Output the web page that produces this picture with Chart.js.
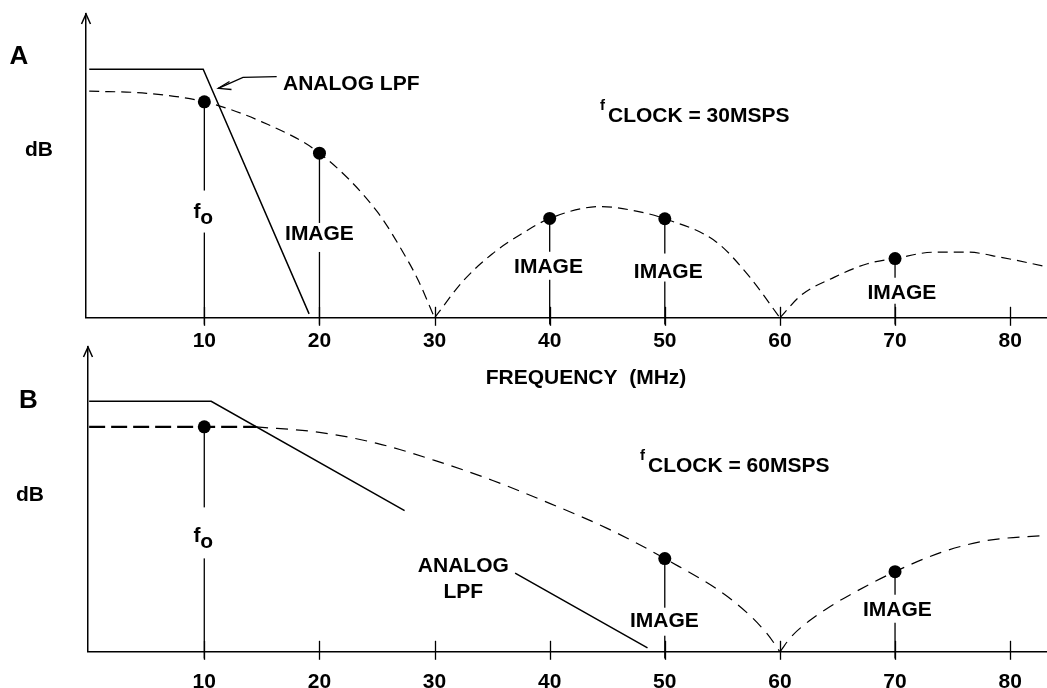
<!DOCTYPE html>
<html>
<head>
<meta charset="utf-8">
<script src="https://cdn.jsdelivr.net/npm/chart.js@4.4.1/dist/chart.umd.min.js"></script>
<style>
  html, body { margin: 0; padding: 0; background: #fff; overflow: hidden; }
  #wrap { position: relative; width: 1047px; height: 688px; overflow: hidden; }
  canvas { position: absolute; left: 0; }
  #chartA { top: 0; }
  #chartB { top: 330px; }
</style>
</head>
<body>
<div id="wrap">
  <canvas id="chartA" width="1047" height="400"></canvas>
  <canvas id="chartB" width="1047" height="390"></canvas>
</div>
<script>
// frequency ticks (MHz)
const freqTicks = [10, 20, 30, 40, 50, 60, 70, 80]

// Panel A - fclock 30MSPS
const lpfAFreq = [0, 9.9, 19.1]
const lpfALevel = [81.8, 81.8, 1.3]
const sincA1Freq = [0, 5, 10, 15, 20, 25, 27.5, 28.6, 30]
const sincA1Level = [74.6, 73.9, 71.1, 64.5, 54.2, 35, 20, 12.2, 0]
const sincA2Freq = [30, 32.5, 35, 37.5, 40, 44.4, 47.3, 50, 54.5, 57.4, 60]
const sincA2Level = [0, 12.2, 21, 27.5, 32.7, 36.6, 35.3, 32.6, 24.9, 13.3, 0]
const sincA3Freq = [60, 61.8, 64.7, 67.6, 70, 73.4, 76.3, 79.2, 83.2]
const sincA3Level = [0, 7.3, 13.3, 17.8, 19.5, 21.6, 21.6, 19.9, 16.8]
const dotsAFreq = [10, 20, 40, 50, 70]
const dotsALevel = [71.1, 54.2, 32.7, 32.6, 19.5]

// Panel B - fclock 60MSPS
const lpfBFreq = [0, 10.6, 27.4, 32, 37.0, 48.5]
const lpfBLevel = [82.2, 82.2, 46.3, null, 25.8, 1.3]
const sincB0Freq = [0, 14.5]
const sincB0Level = [73.8, 73.8]
const sincB1Freq = [14.5, 20, 25, 30, 35, 40, 45, 50, 55.9, 58.9, 60]
const sincB1Level = [73.8, 72, 68.4, 62.8, 56.3, 48.7, 40.5, 30.6, 16.8, 5.9, 0]
const sincB2Freq = [60, 61, 62.5, 64, 66, 70, 74, 78, 83.2]
const sincB2Level = [0, 5, 10, 14, 18.5, 26.3, 32.6, 36.5, 38.2]
const dotsBFreq = [10, 50, 70]
const dotsBLevel = [73.8, 30.6, 26.3]

const FONT = '"Liberation Sans", Arial, sans-serif'

function pts(xs, ys) {
    return xs.map((x, i) => ({x: x, y: ys[i]}))
}
// vertical stems from each dot down through the axis
function stems(xs, ys) {
    return xs.flatMap((x, i) => [{x: x, y: ys[i]}, {x: x, y: -2.2}, {x: x, y: null}])
}

function lineSet(data, opts) {
    return Object.assign({
        data: data,
        borderColor: '#000',
        borderWidth: 1.5,
        pointRadius: 0,
        fill: false,
        spanGaps: false,
        tension: 0
    }, opts || {})
}
function dashSet(data, opts) {
    return lineSet(data, Object.assign({borderWidth: 1.2, borderDash: [10, 6], cubicInterpolationMode: 'monotone'}, opts || {}))
}
function dotSet(data) {
    return {data: data, showLine: false, pointRadius: 6.5, pointHoverRadius: 6.5,
        pointBackgroundColor: '#000', pointBorderWidth: 0, borderColor: '#000'}
}

// Decorations: crossing tick marks, y arrow, text labels with stem gaps
const decor = {
    id: 'decor',
    afterDraw(chart, args, opts) {
        const ctx = chart.ctx
        const xs = chart.scales.x, ys = chart.scales.y
        const area = chart.chartArea
        ctx.save()
        ctx.strokeStyle = '#000'
        ctx.fillStyle = '#000'
        ctx.lineWidth = 1.3
        freqTicks.forEach(v => {
            const px = Math.round(xs.getPixelForValue(v)) + 0.5
            ctx.beginPath()
            ctx.moveTo(px, area.bottom - 11)
            ctx.lineTo(px, area.bottom + 8)
            ctx.stroke()
        })
        // arrow on the dB axis
        ctx.lineWidth = 1.5
        ctx.beginPath()
        ctx.moveTo(area.left - 4.5, area.top + 10)
        ctx.lineTo(area.left, area.top)
        ctx.lineTo(area.left + 4.5, area.top + 10)
        ctx.stroke()

        // labels placed on the data scales
        opts.labels.forEach(l => {
            const px = xs.getPixelForValue(l.x)
            const py = ys.getPixelForValue(l.y)
            if (l.gap) {
                const gx = xs.getPixelForValue(l.gap.at)
                ctx.fillStyle = '#fff'
                ctx.fillRect(gx - 3, py - l.gap.up, 6, l.gap.up + l.gap.down)
                ctx.fillStyle = '#000'
            }
            ctx.font = 'bold ' + (l.size || 21) + 'px ' + FONT
            ctx.textAlign = l.align || 'center'
            ctx.textBaseline = l.base || 'middle'
            ctx.fillText(l.text, px, py)
        })
        // fixed texts (titles outside the plot)
        opts.texts.forEach(t => {
            ctx.font = 'bold ' + (t.size || 21) + 'px ' + FONT
            ctx.textAlign = t.align || 'center'
            ctx.textBaseline = t.base || 'middle'
            ctx.fillText(t.text, t.px, t.py)
        })
        // pointer arrows
        ctx.lineWidth = 1.3
        opts.paths.forEach(p => {
            ctx.beginPath()
            p.forEach((q, i) => i ? ctx.lineTo(q[0], q[1]) : ctx.moveTo(q[0], q[1]))
            ctx.stroke()
        })
        ctx.restore()
    }
}

function makePanel(id, datasets, xMin, pad, decorOpts) {
    return new Chart(document.getElementById(id), {
        type: 'line',
        data: {datasets: datasets},
        options: {
            animation: false,
            responsive: false,
            events: [],
            layout: {padding: pad, autoPadding: false},
            plugins: {legend: {display: false}, tooltip: {enabled: false}, decor: decorOpts},
            scales: {
                x: {
                    type: 'linear', min: xMin, max: 83.2,
                    afterBuildTicks: axis => { axis.ticks = freqTicks.map(v => ({value: v})) },
                    afterFit: axis => { axis.paddingLeft = 0; axis.paddingRight = 0 },
                    ticks: {padding: pad.tickPad, color: '#000', maxRotation: 0, autoSkip: false,
                        font: {family: FONT, size: 21, weight: 'bold'}},
                    grid: {display: false},
                    border: {color: '#000', width: 1.5}
                },
                y: {
                    min: 0, max: 100,
                    afterFit: axis => { axis.width = 0 },
                    ticks: {display: false},
                    grid: {display: false},
                    border: {color: '#000', width: 1.5}
                }
            }
        },
        plugins: [decor]
    })
}

// Panel A
makePanel('chartA', [
    dotSet(pts(dotsAFreq, dotsALevel)),
    lineSet(stems(dotsAFreq, dotsALevel), {borderWidth: 1.3, clip: false}),
    lineSet(pts(lpfAFreq, lpfALevel)),
    dashSet(pts(sincA1Freq, sincA1Level)),
    dashSet(pts(sincA2Freq, sincA2Level)),
    dashSet(pts(sincA3Freq, sincA3Level))
], -0.28, {left: 86, right: 0, top: 14, bottom: 43, tickPad: 3}, {
    labels: [
        {text: 'f', x: 9.37, y: 33.0, base: 'alphabetic', gap: {at: 10, up: 27, down: 15}},
        {text: 'o', x: 10.2, y: 31.0, base: 'alphabetic'},
        {text: 'IMAGE', x: 20, y: 27.6, gap: {at: 20, up: 11, down: 18}},
        {text: 'IMAGE', x: 39.9, y: 16.8, gap: {at: 40, up: 15, down: 13}},
        {text: 'IMAGE', x: 50.3, y: 14.9, gap: {at: 50, up: 19, down: 9}},
        {text: 'IMAGE', x: 70.6, y: 8.25, gap: {at: 70, up: 15, down: 11}}
    ],
    texts: [
        {text: 'A', px: 19, py: 57, size: 26},
        {text: 'dB', px: 39, py: 150},
        {text: 'ANALOG LPF', px: 283, py: 90, align: 'left', base: 'alphabetic'},
        {text: 'f', px: 600, py: 110, size: 15, align: 'left', base: 'alphabetic'},
        {text: 'CLOCK = 30MSPS', px: 608, py: 122, align: 'left', base: 'alphabetic'},
        {text: 'FREQUENCY  (MHz)', px: 586, py: 378}
    ],
    paths: [
        [[276.7, 76.7], [243, 77.3], [218.3, 88.3]],
        [[229.5, 81.5], [218.3, 88.3], [231.5, 89.5]]
    ]
})

// Panel B
makePanel('chartB', [
    dotSet(pts(dotsBFreq, dotsBLevel)),
    lineSet(stems(dotsBFreq, dotsBLevel), {borderWidth: 1.3, clip: false}),
    lineSet(pts(lpfBFreq, lpfBLevel)),
    dashSet(pts(sincB0Freq, sincB0Level), {borderWidth: 2.2, borderDash: [16, 6]}),
    dashSet(pts(sincB1Freq, sincB1Level), {borderDash: [12, 8]}),
    dashSet(pts(sincB2Freq, sincB2Level), {borderDash: [12, 8]})
], -0.1, {left: 88, right: 0, top: 17, bottom: 15, tickPad: 10}, {
    labels: [
        {text: 'f', x: 9.37, y: 35.9, base: 'alphabetic', gap: {at: 10, up: 35, down: 16}},
        {text: 'o', x: 10.2, y: 33.9, base: 'alphabetic'},
        {text: 'ANALOG', x: 32.5, y: 28.0},
        {text: 'LPF', x: 32.5, y: 19.7},
        {text: 'IMAGE', x: 49.96, y: 10.2, gap: {at: 50, up: 13, down: 15}},
        {text: 'IMAGE', x: 70.2, y: 13.8, gap: {at: 70, up: 15, down: 13}}
    ],
    texts: [
        {text: 'B', px: 28.5, py: 71, size: 26},
        {text: 'dB', px: 30, py: 165},
        {text: 'f', px: 640, py: 130, size: 15, align: 'left', base: 'alphabetic'},
        {text: 'CLOCK = 60MSPS', px: 648, py: 142, align: 'left', base: 'alphabetic'}
    ],
    paths: []
})
</script>
</body>
</html>
